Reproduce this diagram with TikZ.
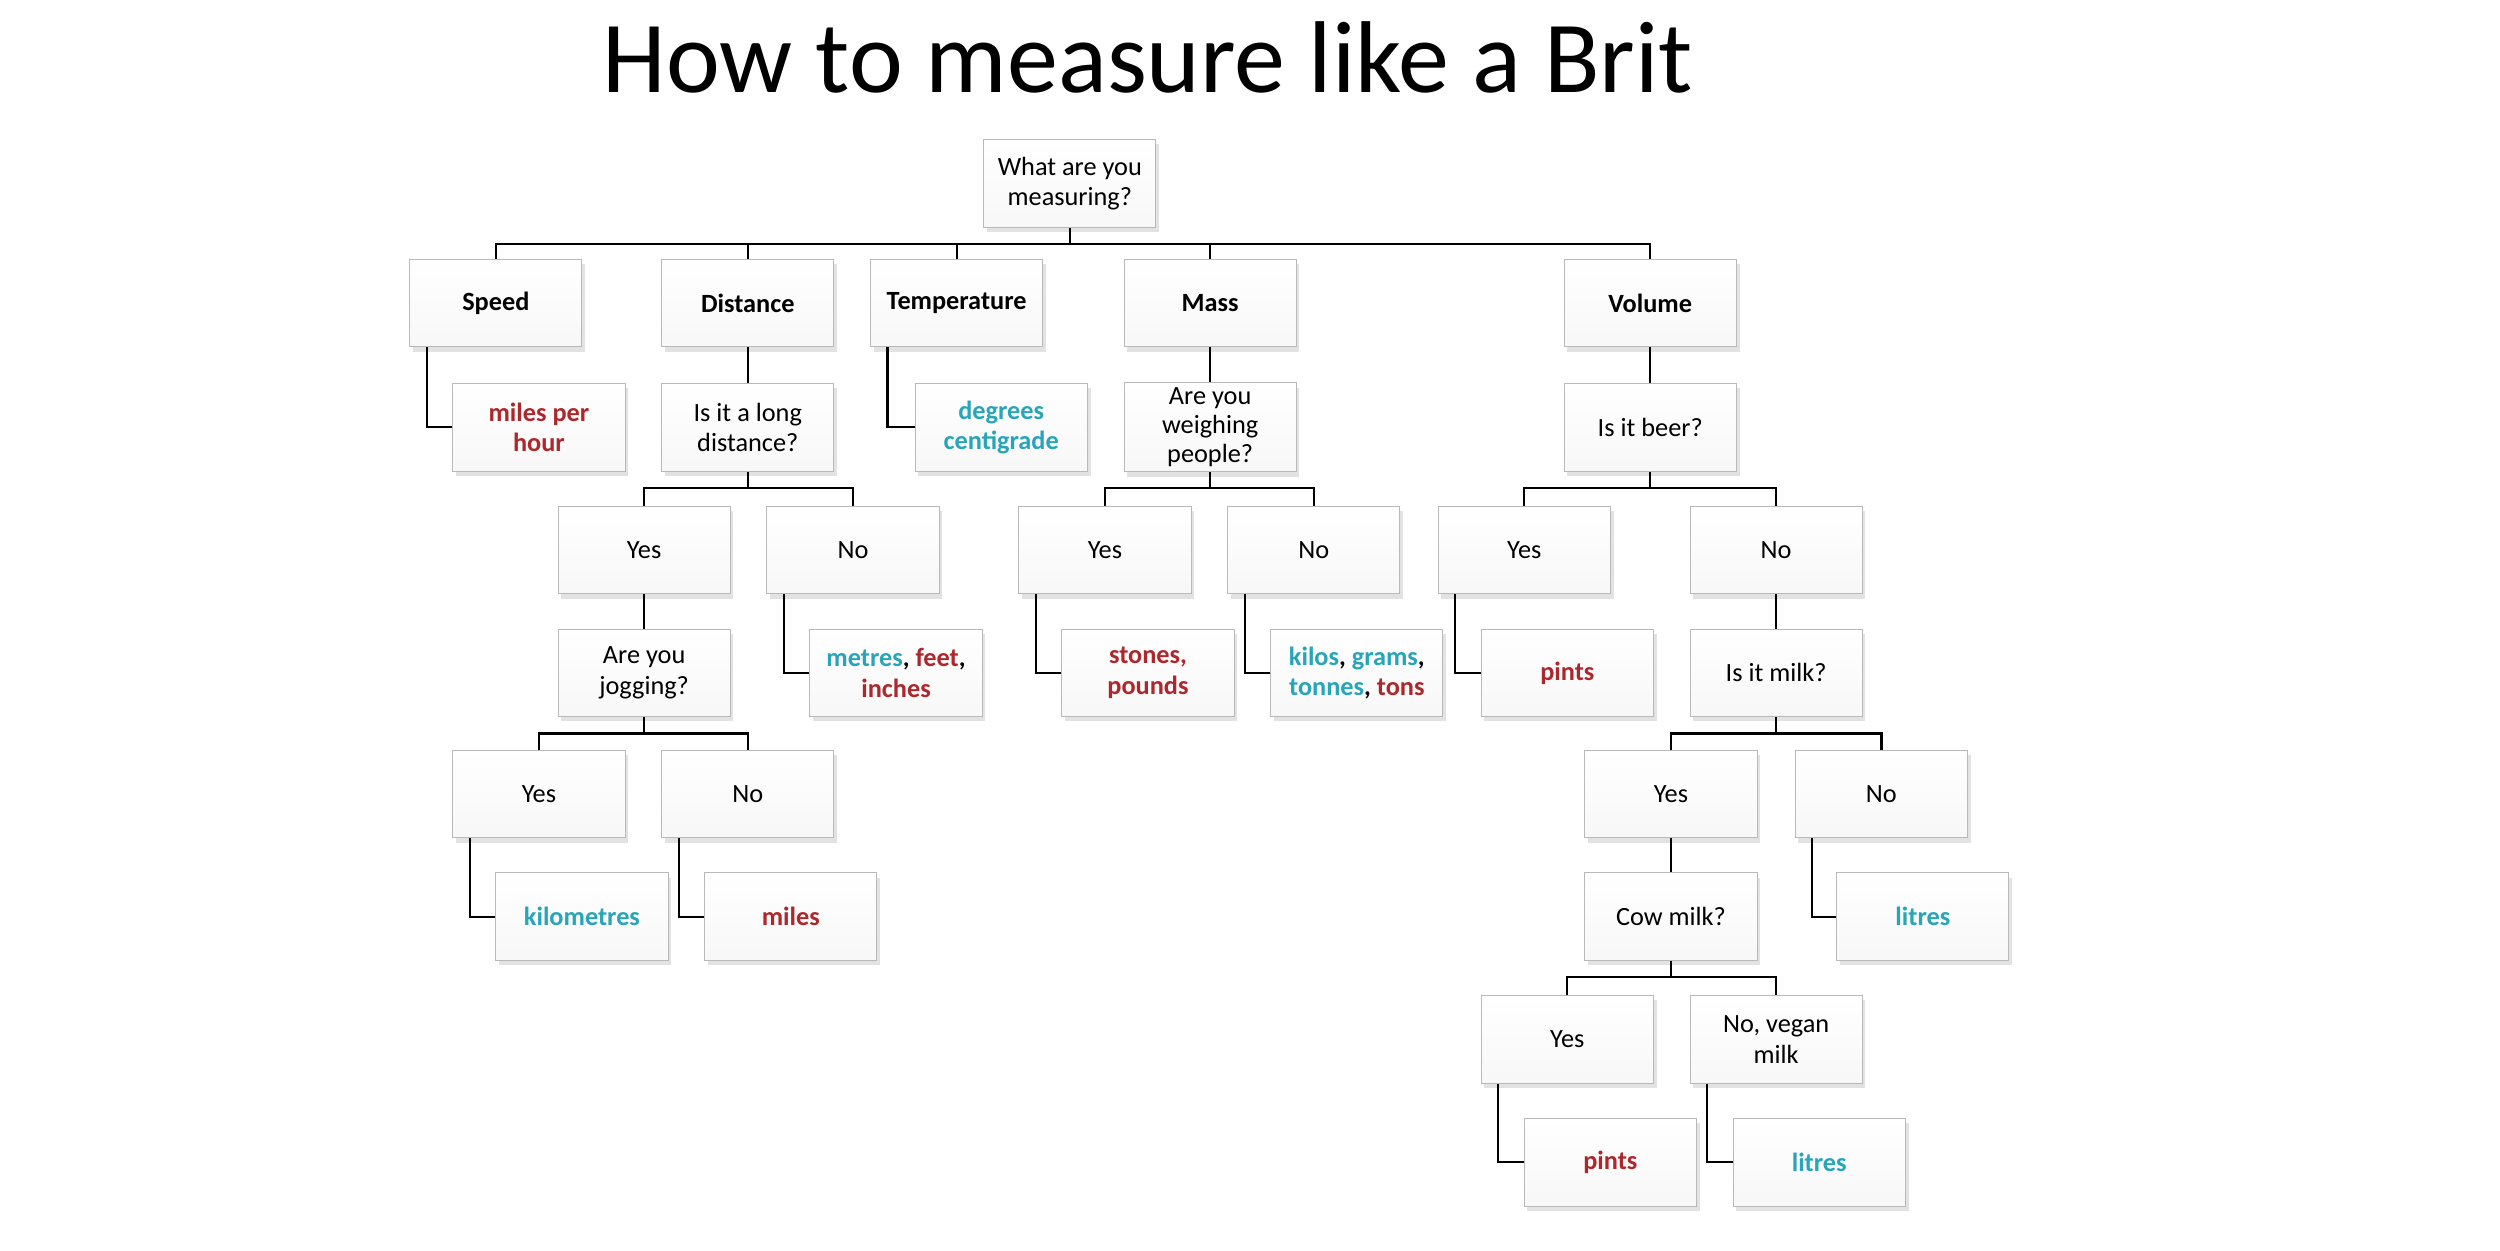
\documentclass[tikz,border=0pt]{standalone}
\usepackage{fontspec}
\setmainfont{Carlito}
\usetikzlibrary{shadows}
\definecolor{rd}{RGB}{172,40,44}
\definecolor{tl}{RGB}{40,165,185}
\begin{document}
\begin{tikzpicture}[x=1pt,y=-1pt,
 box/.style={draw=gray!55,line width=0.6pt,top color=white,bottom color=gray!6,minimum width=108pt,minimum height=55pt,align=center,font=\fontsize{16.5}{19}\selectfont,drop shadow={shadow xshift=2pt,shadow yshift=-3pt,fill=gray!45}},
 hd/.style={box,font=\fontsize{16.5}{19}\selectfont\bfseries},
 ln/.style={line width=1.4pt,black}]
\useasboundingbox[fill=white] (0,0) rectangle (1568,784);
\node[font=\fontsize{64}{70}\selectfont] (title) at (720,36) {How to measure like a Brit};
\node[box] (root) at (671,115) {What are you\\measuring?};
\node[hd] (speed) at (311,190) {Speed};
\node[hd] (dist) at (469,190) {Distance};
\node[hd] (temp) at (600,190) {Temperature};
\node[hd] (mass) at (759,190) {Mass};
\node[hd] (vol) at (1035,190) {Volume};
\node[box,font=\fontsize{16.5}{19}\selectfont\bfseries\color{rd}] (mph) at (338,268) {miles per\\hour};
\node[box] (long) at (469,268) {Is it a long\\distance?};
\node[box,font=\fontsize{16.5}{19}\selectfont\bfseries\color{tl}] (deg) at (628,268) {degrees\\centigrade};
\node[box,font=\fontsize{16.5}{18}\selectfont] (wp) at (759,268) {Are you\\weighing\\people?};
\node[box] (beer) at (1035,268) {Is it beer?};
\node[box] (y1) at (404,345) {Yes};
\node[box] (n1) at (535,345) {No};
\node[box] (y2) at (693,345) {Yes};
\node[box] (n2) at (824,345) {No};
\node[box] (y3) at (956,345) {Yes};
\node[box] (n3) at (1114,345) {No};
\node[box] (jog) at (404,422) {Are you\\jogging?};
\node[box,font=\fontsize{16.5}{19}\selectfont\bfseries] (mfi) at (562,422) {\textcolor{tl}{metres}, \textcolor{rd}{feet},\\\textcolor{rd}{inches}};
\node[box,font=\fontsize{16.5}{19}\selectfont\bfseries\color{rd}] (sp) at (720,422) {stones,\\pounds};
\node[box,font=\fontsize{16.5}{19}\selectfont\bfseries] (kg) at (851,422) {\textcolor{tl}{kilos}, \textcolor{tl}{grams},\\\textcolor{tl}{tonnes}, \textcolor{rd}{tons}};
\node[box,font=\fontsize{16.5}{19}\selectfont\bfseries\color{rd}] (pints1) at (983,422) {pints};
\node[box] (milk) at (1114,422) {Is it milk?};
\node[box] (y4) at (338,498) {Yes};
\node[box] (n4) at (469,498) {No};
\node[box] (y5) at (1048,498) {Yes};
\node[box] (n5) at (1180,498) {No};
\node[box,font=\fontsize{16.5}{19}\selectfont\bfseries\color{tl}] (km) at (365,575) {kilometres};
\node[box,font=\fontsize{16.5}{19}\selectfont\bfseries\color{rd}] (miles) at (496,575) {miles};
\node[box] (cow) at (1048,575) {Cow milk?};
\node[box,font=\fontsize{16.5}{19}\selectfont\bfseries\color{tl}] (lit1) at (1206,575) {litres};
\node[box] (y6) at (983,652) {Yes};
\node[box] (n6) at (1114,652) {No, vegan\\milk};
\node[box,font=\fontsize{16.5}{19}\selectfont\bfseries\color{rd}] (pints2) at (1010,729) {pints};
\node[box,font=\fontsize{16.5}{19}\selectfont\bfseries\color{tl}] (lit2) at (1141,729) {litres};
% buses
\coordinate (b0) at (671,153);
\draw[ln] (root.south) -- (b0);
\draw[ln] (speed.north) |- (b0) -| (vol.north);
\draw[ln] (dist.north) -- (dist.north |- b0);
\draw[ln] (temp.north) -- (temp.north |- b0);
\draw[ln] (mass.north) -- (mass.north |- b0);
\coordinate (b1) at (469,306);
\draw[ln] (long.south) -- (b1);
\draw[ln] (y1.north) |- (b1) -| (n1.north);
\coordinate (b2) at (759,306);
\draw[ln] (wp.south) -- (b2);
\draw[ln] (y2.north) |- (b2) -| (n2.north);
\coordinate (b3) at (1035,306);
\draw[ln] (beer.south) -- (b3);
\draw[ln] (y3.north) |- (b3) -| (n3.north);
\coordinate (b4) at (404,460);
\draw[ln] (jog.south) -- (b4);
\draw[ln] (y4.north) |- (b4) -| (n4.north);
\coordinate (b5) at (1114,460);
\draw[ln] (milk.south) -- (b5);
\draw[ln] (y5.north) |- (b5) -| (n5.north);
\coordinate (b6) at (1048,613);
\draw[ln] (cow.south) -- (b6);
\draw[ln] (y6.north) |- (b6) -| (n6.north);
% straight
\draw[ln] (dist.south) -- (long.north);
\draw[ln] (mass.south) -- (wp.north);
\draw[ln] (vol.south) -- (beer.north);
\draw[ln] (y1.south) -- (jog.north);
\draw[ln] (n3.south) -- (milk.north);
\draw[ln] (y5.south) -- (cow.north);
% elbows
\draw[ln] ([xshift=11pt]speed.south west) |- (mph.west);
\draw[ln] ([xshift=11pt]temp.south west) |- (deg.west);
\draw[ln] ([xshift=11pt]n1.south west) |- (mfi.west);
\draw[ln] ([xshift=11pt]y2.south west) |- (sp.west);
\draw[ln] ([xshift=11pt]n2.south west) |- (kg.west);
\draw[ln] ([xshift=11pt]y3.south west) |- (pints1.west);
\draw[ln] ([xshift=11pt]y4.south west) |- (km.west);
\draw[ln] ([xshift=11pt]n4.south west) |- (miles.west);
\draw[ln] ([xshift=11pt]n5.south west) |- (lit1.west);
\draw[ln] ([xshift=11pt]y6.south west) |- (pints2.west);
\draw[ln] ([xshift=11pt]n6.south west) |- (lit2.west);
\end{tikzpicture}
\end{document}
